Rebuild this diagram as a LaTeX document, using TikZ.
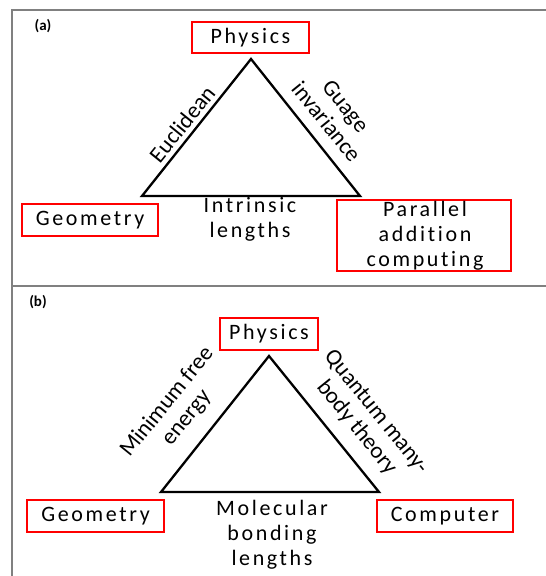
\documentclass[tikz,border=0pt]{standalone}
\usepackage{fontspec}
\setmainfont{Carlito}[Ligatures=NoCommon]
\newfontfamily\spaced{Carlito}[LetterSpace=12,Ligatures=NoCommon]
\begin{document}
\begin{tikzpicture}[x=1pt,y=-1pt,
  redbox/.style={draw=red,line width=1.3pt,inner sep=0pt,font=\spaced\fontsize{22}{25.5}\selectfont},
  hlabel/.style={align=center,inner sep=0pt,font=\spaced\fontsize{22}{25}\selectfont},
  rlabel/.style={align=center,inner sep=0pt,font=\fontsize{23}{25}\selectfont},
  tri/.style={line width=2.3pt,line join=miter},
  frame/.style={draw=gray,line width=1.6pt},
  panel/.style={inner sep=0pt,font=\bfseries\fontsize{15}{17}\selectfont}]
\useasboundingbox (0,0) rectangle (546,576);
% frame
\draw[frame] (12,580) -- (12,10) -- (550,10);
\draw[frame] (12,286) -- (550,286);
% panel (a)
\node[panel] (pa) at (43,26) {(a)};
\node[redbox,minimum width=117pt,minimum height=31pt] (phA) at (250.5,37.5) {Physics};
\node[redbox,minimum width=136pt,minimum height=32pt] (geA) at (90,220) {Geometry};
\node[draw=red,line width=1.3pt,minimum width=174pt,minimum height=71pt,inner sep=0pt] (pcA) at (424,235.5) {};
\node[hlabel] (pcAt) at (425,236) {Parallel\\addition\\computing};
\coordinate (A1) at (251,59);
\coordinate (A2) at (142,196);
\coordinate (A3) at (360,196);
\draw[tri] (A1) -- (A2) -- (A3) -- cycle;
\node[rlabel,rotate=51] (eu) at (182,124) {Euclidean};
\node[rlabel,rotate=-51] (gi) at (336,114) {Guage\\invariance};
\node[hlabel] (il) at (250,219) {Intrinsic\\lengths};
% panel (b)
\node[panel] (pb) at (38,302) {(b)};
\node[redbox,minimum width=98pt,minimum height=32pt] (phB) at (269,334) {Physics};
\node[redbox,minimum width=137pt,minimum height=32pt] (geB) at (95.5,516) {Geometry};
\node[redbox,minimum width=136pt,minimum height=32pt] (coB) at (445,516) {Computer};
\coordinate (B1) at (269,356);
\coordinate (B2) at (161,492);
\coordinate (B3) at (379,492);
\draw[tri] (B1) -- (B2) -- (B3) -- cycle;
\node[rlabel,rotate=51] (mf) at (177,410) {Minimum free\\energy};
\node[rlabel,rotate=-51] (qm) at (366,420) {Quantum many-\\body theory};
\node[hlabel] (mb) at (272,535) {Molecular\\bonding\\lengths};
\end{tikzpicture}
\end{document}
